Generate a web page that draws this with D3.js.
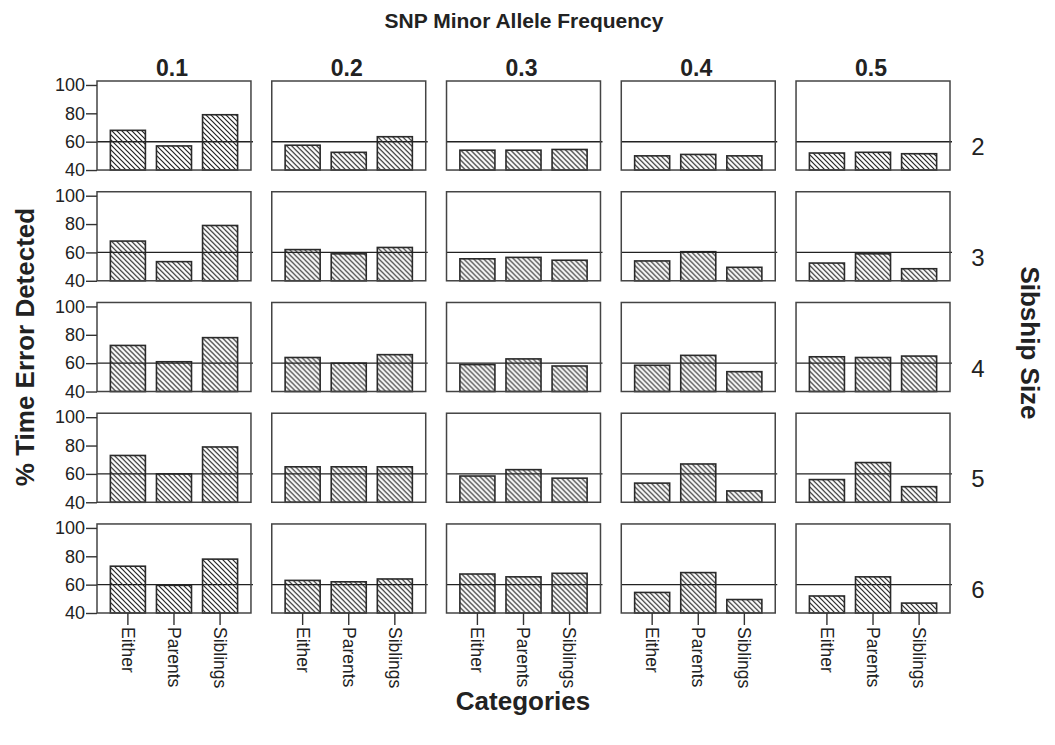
<!DOCTYPE html>
<html>
<head>
<meta charset="utf-8">
<script src="https://cdn.jsdelivr.net/npm/d3@7"></script>
<style>
  body { margin: 0; background: #fff; }
  text { font-family: "Liberation Sans", Arial, sans-serif; fill: #222; }
</style>
</head>
<body>
<div id="chart-container"></div>
<script>
/**************************************************
 * Data
 **************************************************/

const mafLevels = ["0.1", "0.2", "0.3", "0.4", "0.5"];
const sibshipSizes = ["2", "3", "4", "5", "6"];
const categories = ["Either", "Parents", "Siblings"];
const yTicks = [40, 60, 80, 100];
const referenceValue = 60;

// % time error detected, one row per sibship size,
// each entry = [Either, Parents, Siblings] for MAF 0.1 .. 0.5
const sib2 = [[68, 57, 79], [57.5, 52.5, 63.5], [54, 54, 54.5], [50, 51, 50], [52, 52.5, 51.5]];
const sib3 = [[68, 53.5, 79], [62, 59, 63.5], [55.5, 56.5, 54.5], [54, 60.5, 49.5], [52.5, 59, 48.5]];
const sib4 = [[72.5, 61, 78], [64, 60, 66], [59, 63, 58], [58.5, 65.5, 54], [64.5, 64, 65]];
const sib5 = [[73, 60, 79], [65, 65, 65], [58.5, 63, 57], [53.5, 67, 48], [56, 68, 51]];
const sib6 = [[73, 59.5, 78], [63, 62, 64], [67.5, 65.5, 68], [54.5, 68.5, 49.5], [52, 65.5, 47]];

const rows = [sib2, sib3, sib4, sib5, sib6];

/**************************************************
 * Layout
 **************************************************/

const width = 1055, height = 745;

const svg = d3.select("#chart-container")
  .append("svg")
  .attr("width", width)
  .attr("height", height);

// diagonal hatching like the original
const defs = svg.append("defs");
const pat = defs.append("pattern")
  .attr("id", "hatch")
  .attr("patternUnits", "userSpaceOnUse")
  .attr("width", 5)
  .attr("height", 5);
pat.append("rect").attr("width", 5).attr("height", 5).attr("fill", "#fff");
pat.append("path")
  .attr("d", "M-1,-1 L6,6 M-1,4 L1,6 M4,-1 L6,1")
  .attr("stroke", "#222")
  .attr("stroke-width", 1.2);

const colScale = d3.scaleBand()
  .domain(mafLevels)
  .range([97, 950])
  .paddingInner(0.119);

const rowScale = d3.scaleBand()
  .domain(sibshipSizes)
  .range([81, 613])
  .paddingInner(0.196);

const panelW = colScale.bandwidth();
const panelH = rowScale.bandwidth();

const xScale = d3.scaleBand()
  .domain(categories)
  .range([0, panelW])
  .paddingInner(0.24)
  .paddingOuter(0.29);

const yScale = d3.scaleLinear()
  .domain([40, 102.8])
  .range([panelH, 0]);

/**************************************************
 * Panels
 **************************************************/

sibshipSizes.forEach((sib, ri) => {
  mafLevels.forEach((maf, ci) => {
    const g = svg.append("g")
      .attr("transform", `translate(${colScale(maf)},${rowScale(sib)})`);

    const vals = rows[ri][ci].map((v, k) => ({ cat: categories[k], value: v }));

    g.selectAll(".bar")
      .data(vals)
      .enter()
      .append("rect")
      .attr("class", "bar")
      .attr("x", d => xScale(d.cat))
      .attr("y", d => yScale(d.value))
      .attr("width", xScale.bandwidth())
      .attr("height", d => panelH - yScale(d.value))
      .attr("fill", "url(#hatch)")
      .attr("stroke", "#2a2a2a")
      .attr("stroke-width", 1.6);

    // reference line
    g.append("line")
      .attr("x1", 0)
      .attr("x2", panelW + 2)
      .attr("y1", yScale(referenceValue))
      .attr("y2", yScale(referenceValue))
      .attr("stroke", "#222")
      .attr("stroke-width", 1.4);

    // frame
    g.append("rect")
      .attr("width", panelW)
      .attr("height", panelH)
      .attr("fill", "none")
      .attr("stroke", "#444")
      .attr("stroke-width", 1.5);

    if (ci === 0) {
      const yAxis = g.append("g")
        .call(d3.axisLeft(yScale).tickValues(yTicks).tickSize(11).tickPadding(1));
      yAxis.select(".domain").remove();
      yAxis.selectAll("line").attr("stroke", "#333").attr("stroke-width", 1.4);
      yAxis.selectAll("text")
        .attr("font-size", "18px")
        .attr("font-family", "Liberation Sans, Arial, sans-serif")
        .attr("fill", "#222");
    }

    if (ri === sibshipSizes.length - 1) {
      const xAxis = g.append("g")
        .attr("transform", `translate(0,${panelH})`)
        .call(d3.axisBottom(xScale).tickSize(12).tickSizeOuter(0));
      xAxis.select(".domain").remove();
      xAxis.selectAll("line").attr("stroke", "#333").attr("stroke-width", 1.4);
      xAxis.selectAll("text")
        .attr("font-size", "17.5px")
        .attr("font-family", "Liberation Sans, Arial, sans-serif")
        .attr("fill", "#222")
        .attr("transform", "rotate(90)")
        .attr("x", 14)
        .attr("y", 0)
        .attr("dy", "0.35em")
        .attr("text-anchor", "start");
    }

    // row label on the right
    if (ci === mafLevels.length - 1) {
      svg.append("text")
        .attr("x", colScale(maf) + panelW + 28)
        .attr("y", rowScale(sib) + yScale(referenceValue) + 5)
        .attr("dy", "0.35em")
        .attr("text-anchor", "middle")
        .attr("font-size", "24px")
        .text(sib);
    }
  });
});

// column headers
svg.selectAll(".col-head")
  .data(mafLevels)
  .enter()
  .append("text")
  .attr("class", "col-head")
  .attr("x", d => colScale(d) + panelW / 2 - 2)
  .attr("y", 76)
  .attr("text-anchor", "middle")
  .attr("font-size", "23px")
  .attr("font-weight", "bold")
  .text(d => d);

/**************************************************
 * Titles
 **************************************************/

svg.append("text")
  .attr("x", 524)
  .attr("y", 28)
  .attr("text-anchor", "middle")
  .attr("font-size", "21px")
  .attr("font-weight", "bold")
  .text("SNP Minor Allele Frequency");

svg.append("text")
  .attr("x", 523)
  .attr("y", 710)
  .attr("text-anchor", "middle")
  .attr("font-size", "26px")
  .attr("font-weight", "bold")
  .text("Categories");

svg.append("text")
  .attr("transform", "translate(34,347) rotate(-90)")
  .attr("text-anchor", "middle")
  .attr("font-size", "26px")
  .attr("font-weight", "bold")
  .text("% Time Error Detected");

svg.append("text")
  .attr("transform", "translate(1021,343) rotate(90)")
  .attr("text-anchor", "middle")
  .attr("font-size", "26px")
  .attr("font-weight", "bold")
  .text("Sibship Size");
</script>
</body>
</html>
